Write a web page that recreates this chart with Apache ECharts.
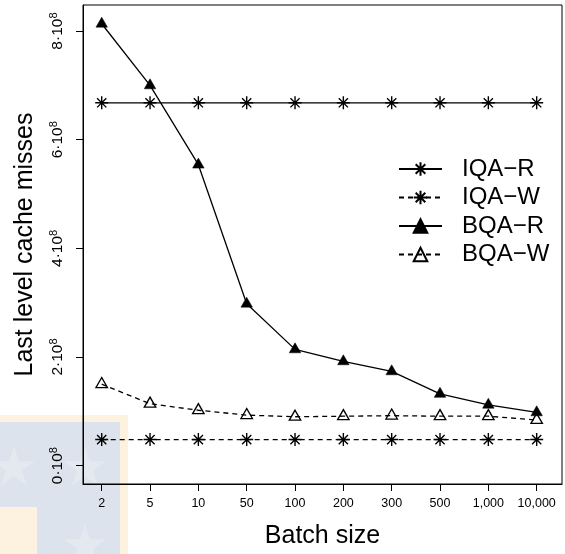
<!DOCTYPE html>
<html>
<head>
<meta charset="utf-8">
<script src="https://cdn.jsdelivr.net/npm/echarts@6/dist/echarts.min.js"></script>
<style>
html,body{margin:0;padding:0;background:#fff;}
#chart{width:565px;height:554px;}
</style>
</head>
<body>
<div id="chart"></div>
<script>
// ---- data ----
const categories = ['2', '5', '10', '50', '100', '200', '300', '500', '1,000', '10,000'];
const iqaR = [6.68e8, 6.68e8, 6.68e8, 6.68e8, 6.68e8, 6.68e8, 6.68e8, 6.68e8, 6.68e8, 6.68e8];
const iqaW = [0.48e8, 0.48e8, 0.48e8, 0.48e8, 0.48e8, 0.48e8, 0.48e8, 0.48e8, 0.48e8, 0.48e8];
const bqaR = [8.135e8, 7.0e8, 5.54e8, 2.98e8, 2.14e8, 1.92e8, 1.735e8, 1.32e8, 1.12e8, 0.98e8];
const bqaW = [1.50e8, 1.14e8, 1.02e8, 0.93e8, 0.90e8, 0.91e8, 0.92e8, 0.91e8, 0.91e8, 0.84e8];
const yTicks = [0, 2e8, 4e8, 6e8, 8e8];
const seriesNames = ['IQA\u2212R', 'IQA\u2212W', 'BQA\u2212R', 'BQA\u2212W'];

const FONT = 'Liberation Sans';
const pairs = arr => categories.map((c, i) => [i, arr[i]]);
const xIdx = categories.map((c, i) => i);
const asterisk = 'path://M10,0L10,20M0,10L20,10M2.93,2.93L17.07,17.07M2.93,17.07L17.07,2.93';

// decorative background watermark (bottom-left corner of the reference)
function starPoints(cx, cy, R) {
  const pts = [];
  const r = R * 0.382;
  for (let k = 0; k < 10; k++) {
    const a = -Math.PI / 2 + k * Math.PI / 5;
    const rr = k % 2 === 0 ? R : r;
    pts.push([cx + rr * Math.cos(a), cy + rr * Math.sin(a)]);
  }
  return pts;
}
const watermark = [
  {type: 'rect', z: -10, shape: {x: 0, y: 415, width: 128, height: 139}, style: {fill: '#fdf2df'}},
  {type: 'rect', z: -9, shape: {x: 0, y: 422, width: 120, height: 132}, style: {fill: '#dce3ec'}},
  {type: 'rect', z: -8, shape: {x: 0, y: 507, width: 37, height: 47}, style: {fill: '#fdf2df'}},
  {type: 'polygon', z: -8, shape: {points: starPoints(14, 468, 22)}, style: {fill: '#e4e9ef'}},
  {type: 'polygon', z: -8, shape: {points: starPoints(85, 468, 22)}, style: {fill: '#e4e9ef'}},
  {type: 'polygon', z: -8, shape: {points: starPoints(85, 546, 22)}, style: {fill: '#e4e9ef'}}
];

const chart = echarts.init(document.getElementById('chart'), null, {renderer: 'canvas'});
const lineW = 1.3;
const dash = [5, 4];

chart.setOption({
  animation: false,
  backgroundColor: '#fff',
  graphic: watermark,
  grid: {left: 83, right: 3, top: 5, bottom: 67, show: true, borderColor: '#000', borderWidth: 1, backgroundColor: 'transparent'},
  legend: {
    orient: 'vertical',
    left: 398, top: 157,
    padding: 0,
    itemWidth: 43, itemHeight: 17, itemGap: 4.5,
    textStyle: {fontFamily: FONT, fontSize: 24, color: '#000', lineHeight: 24, padding: [0, 0, 0, 15]},
    data: seriesNames
  },
  xAxis: {
    type: 'value',
    min: -0.387, max: 9.524,
    name: 'Batch size',
    nameLocation: 'middle',
    nameGap: 40,
    nameTextStyle: {fontFamily: FONT, fontSize: 25, color: '#000'},
    axisLine: {show: true, onZero: false, lineStyle: {color: '#000', width: 1}},
    axisTick: {show: true, length: 7, lineStyle: {color: '#000', width: 1}, customValues: xIdx},
    axisLabel: {show: true, margin: 13, fontFamily: FONT, fontSize: 12.5, color: '#000', customValues: xIdx,
      formatter: v => categories[Math.round(v)]},
    splitLine: {show: false}
  },
  yAxis: {
    type: 'value',
    min: -0.338e8, max: 8.48e8,
    name: 'Last level cache misses',
    nameLocation: 'middle',
    nameGap: 45,
    nameMoveOverlap: false,
    nameTextStyle: {fontFamily: FONT, fontSize: 25, color: '#000'},
    axisLine: {show: true, onZero: false, lineStyle: {color: '#000', width: 1}},
    axisTick: {show: true, length: 7, lineStyle: {color: '#000', width: 1}, customValues: yTicks},
    axisLabel: {
      show: true, rotate: 90, margin: 15, color: '#000', customValues: yTicks,
      fontFamily: FONT, fontSize: 15.5,
      formatter: v => '{main|' + Math.round(v / 1e8) + '\u00b710}{sup|8}',
      rich: {
        main: {fontFamily: FONT, fontSize: 15.5, lineHeight: 20, color: '#000'},
        sup: {fontFamily: FONT, fontSize: 11, lineHeight: 11, verticalAlign: 'top', color: '#000'}
      }
    },
    splitLine: {show: false}
  },
  series: [
    {
      name: seriesNames[0], type: 'line', data: pairs(iqaR),
      symbol: asterisk, symbolSize: 13,
      lineStyle: {color: '#000', width: lineW, type: 'solid'},
      itemStyle: {color: 'rgba(0,0,0,0)', borderColor: '#000', borderWidth: 1.4},
      emphasis: {disabled: true}
    },
    {
      name: seriesNames[1], type: 'line', data: pairs(iqaW),
      symbol: asterisk, symbolSize: 13,
      lineStyle: {color: '#000', width: lineW, type: dash},
      itemStyle: {color: 'rgba(0,0,0,0)', borderColor: '#000', borderWidth: 1.4},
      emphasis: {disabled: true}
    },
    {
      name: seriesNames[2], type: 'line', data: pairs(bqaR),
      symbol: 'triangle', symbolSize: [11.5, 10], symbolOffset: [0, -1.6],
      lineStyle: {color: '#000', width: lineW, type: 'solid'},
      itemStyle: {color: '#000', borderColor: '#000', borderWidth: 0.5},
      emphasis: {disabled: true}
    },
    {
      name: seriesNames[3], type: 'line', data: pairs(bqaW),
      symbol: 'triangle', symbolSize: [11.5, 10], symbolOffset: [0, -1.6],
      lineStyle: {color: '#000', width: lineW, type: dash},
      itemStyle: {color: 'rgba(0,0,0,0)', borderColor: '#000', borderWidth: 1.3},
      emphasis: {disabled: true}
    }
  ]
});
</script>
</body>
</html>
